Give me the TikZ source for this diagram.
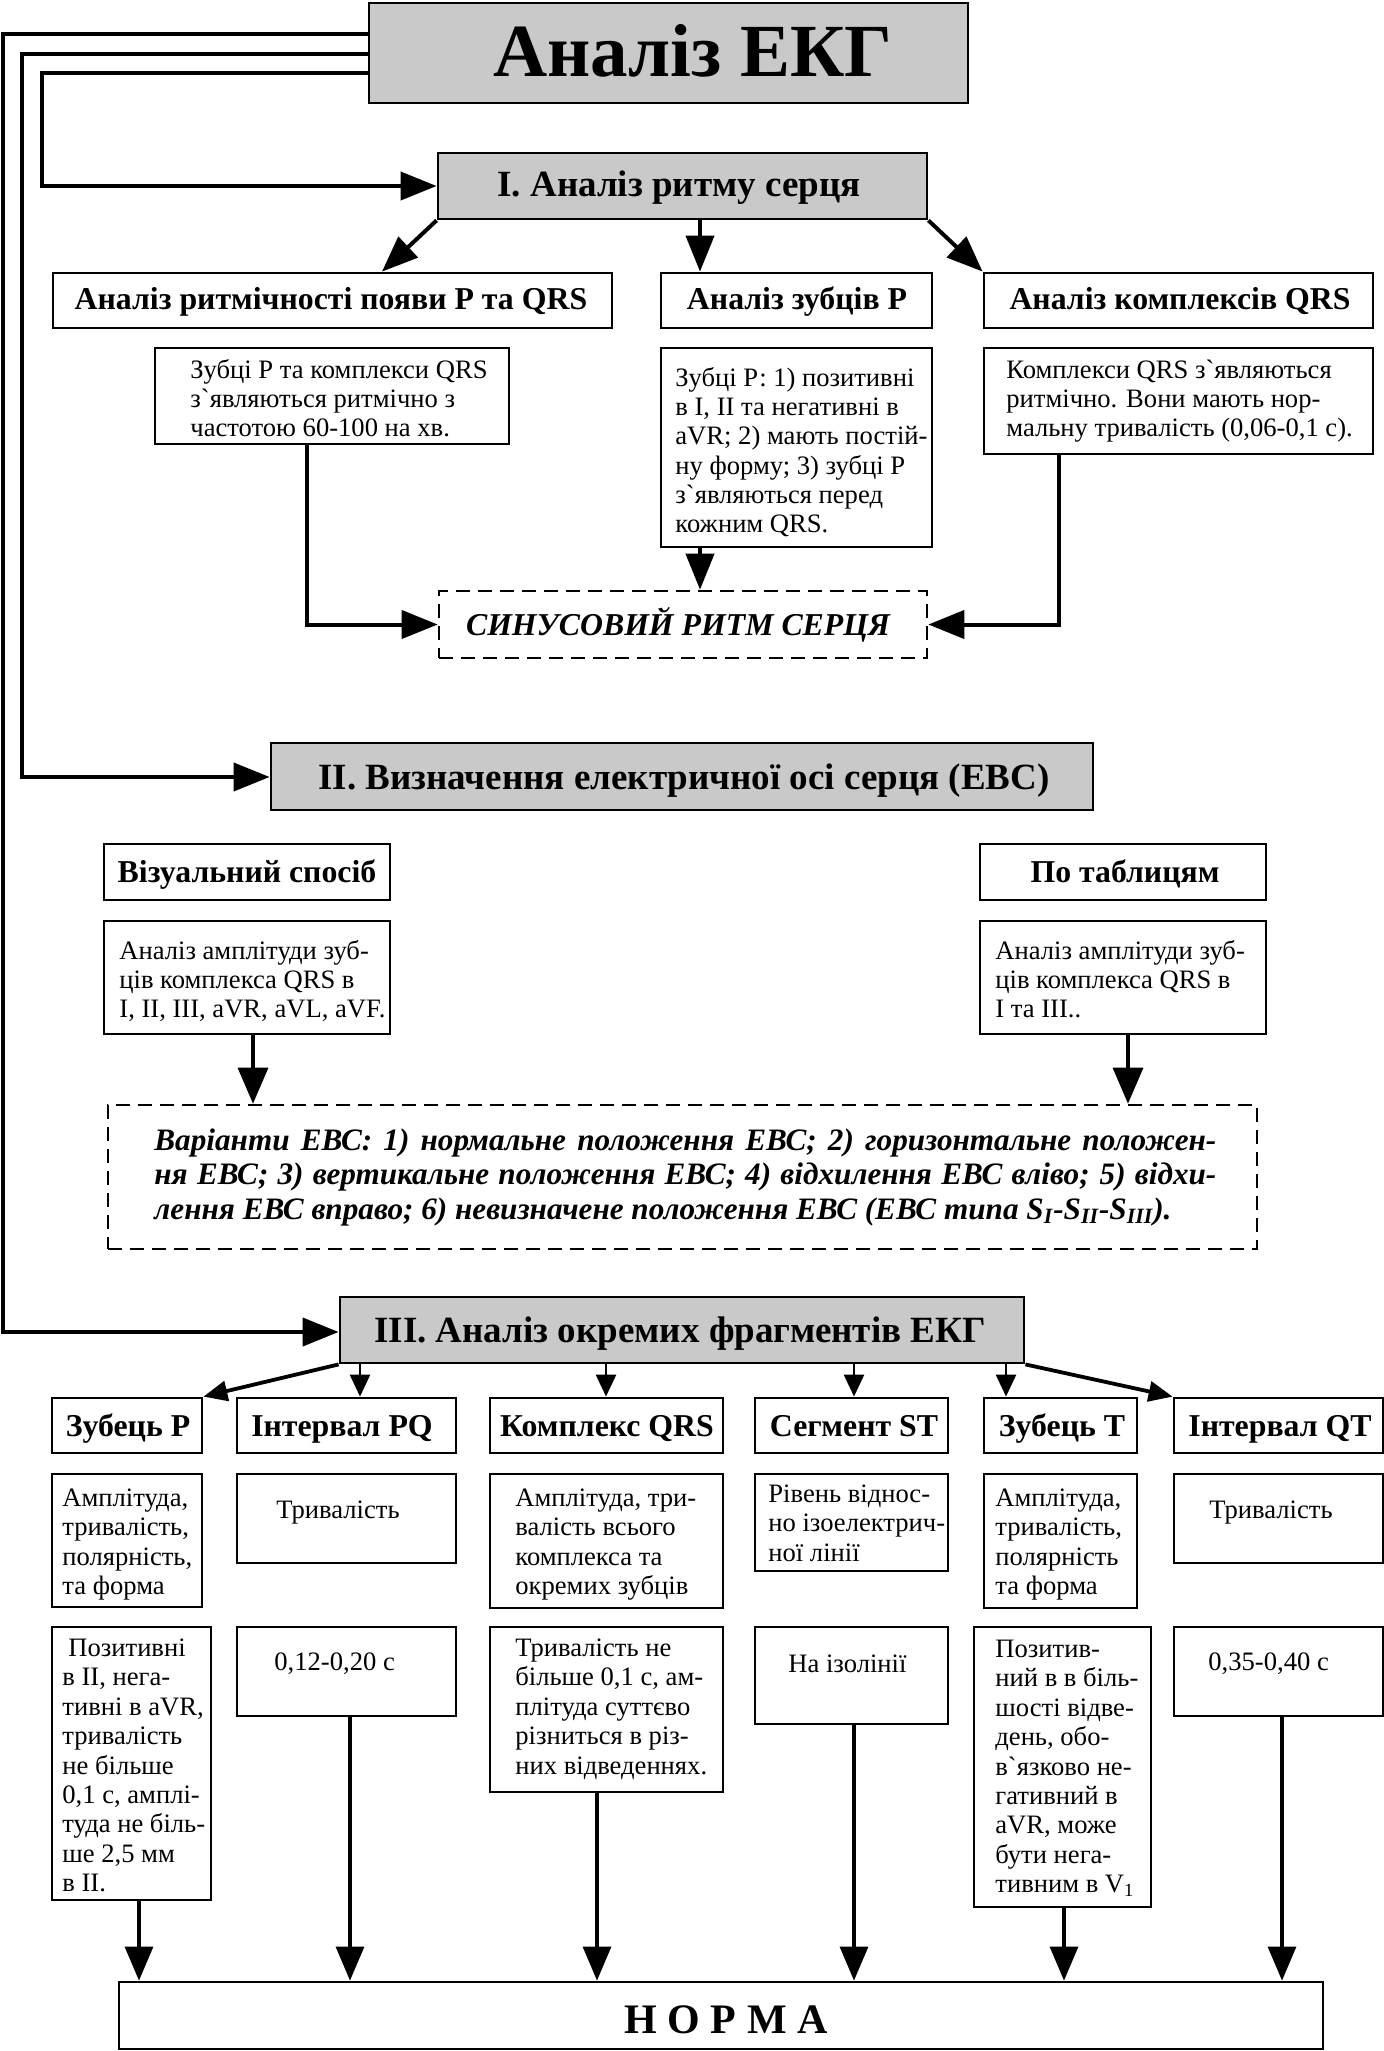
\documentclass[tikz,border=0pt]{standalone}
\usepackage{fontspec}
\setmainfont{Liberation Serif}
\newfontfamily\gravefont{Liberation Serif}
\usetikzlibrary{arrows.meta,fit}
\definecolor{boxgray}{gray}{0.79}
\newcommand{\fs}[2]{\fontsize{#1}{#2}\selectfont}
\newcommand{\rl}[1]{\rule{0pt}{#1}}
\newcommand{\gq}{{\gravefont`}}
\begin{document}
\begin{tikzpicture}[x=0.5pt,y=-0.5pt,
  box/.style={draw, line width=1.4pt, inner sep=0pt},
  gbox/.style={box, fill=boxgray},
  dbox/.style={draw, line width=1.3pt, inner sep=0pt, dash pattern=on 7pt off 4pt},
  bigarr/.style={line width=2pt, -{Triangle[length=18pt,width=14pt]}},
  arrII/.style={line width=1.6pt, -{Triangle[length=18pt,width=15pt]}},
  midarr/.style={line width=1.6pt, -{Triangle[length=17pt,width=14pt]}},
  smarr/.style={line width=1.3pt, -{Triangle[length=11pt,width=10pt]}},
  diagarr/.style={line width=1.9pt, -{Triangle[length=12pt,width=10pt]}},
  ttl/.style={font=\fs{37.5}{42}\bfseries, inner sep=0pt, anchor=base},
  sec/.style={font=\fs{18.5}{21}\bfseries, inner sep=0pt, anchor=base},
  hd/.style={font=\fs{15.9}{18}\bfseries, inner sep=0pt, anchor=base},
  lhd/.style={font=\fs{15.9}{18}\bfseries, inner sep=0pt, anchor=base},
  body/.style={font=\fs{13.3}{14.6}, inner sep=0pt, anchor=north west, align=left},
  sbody/.style={font=\fs{13.3}{14.6}, inner sep=0pt, anchor=base west},
  lbody/.style={font=\fs{13.3}{14.7}, inner sep=0pt, anchor=north west, align=left},
  slbody/.style={font=\fs{13.3}{14.7}, inner sep=0pt, anchor=base west},
  sinus/.style={font=\fs{15.9}{19}\bfseries\itshape, inner sep=0pt, anchor=base},
  vartext/.style={font=\fs{15.6}{17.2}\bfseries\itshape, inner sep=0pt, anchor=north west, align=justify, text width=531pt},
  normt/.style={font=\fs{21}{24}\bfseries, inner sep=0pt, anchor=base}
]
\useasboundingbox (0,0) rectangle (1384,2051);

% ---------- title ----------
\node[gbox, fit={(369,3) (968,103)}] (title) {};
\node[ttl] (titleT) at (693,76) {Аналіз ЕКГ};

% ---------- section I ----------
\node[gbox, fit={(438,153) (927,219)}] (secI) {};
\node[sec] (secIT) at (679,196) {I. Аналіз ритму серця};

\node[box, fit={(53,273) (612,328)}] (h1) {};
\node[hd] (h1T) at (331,309) {Аналіз ритмічності появи Р та QRS};
\node[box, fit={(661,273) (932,328)}] (h2) {};
\node[hd] (h2T) at (797,309) {Аналіз зубців Р};
\node[box, fit={(984,273) (1373,328)}] (h3) {};
\node[hd] (h3T) at (1180,309) {Аналіз комплексів QRS};

\node[box, fit={(155,348) (509,444)}] (b1) {};
\node[body] (b1T) at (190,355) {\rl{11.5pt}Зубці Р та комплекси QRS\\з\gq являються ритмічно з\\частотою 60-100 на хв.};
\node[box, fit={(661,348) (932,547)}] (b2) {};
\node[body] (b2T) at (675,363) {\rl{11.5pt}Зубці Р: 1) позитивні\\в I, II та негативні в\\aVR; 2) мають постій-\\ну форму; 3) зубці Р\\з\gq являються перед\\кожним QRS.};
\node[box, fit={(984,348) (1373,454)}] (b3) {};
\node[body] (b3T) at (1006,355) {\rl{11.5pt}Комплекси QRS з\gq являються\\ритмічно. Вони мають нор-\\мальну тривалість (0,06-0,1 с).};

\node[dbox, fit={(439,591) (927,658)}] (sin) {};
\node[sinus] (sinT) at (678,635) {СИНУСОВИЙ РИТМ СЕРЦЯ};

% ---------- section II ----------
\node[gbox, fit={(271,743) (1093,810)}] (secII) {};
\node[sec] (secIIT) at (684,789) {II. Визначення електричної осі серця (ЕВС)};

\node[box, fit={(104,844) (390,900)}] (vis) {};
\node[hd] (visT) at (247,882) {Візуальний спосіб};
\node[box, fit={(980,844) (1266,900)}] (tab) {};
\node[hd] (tabT) at (1125,882) {По таблицям};

\node[box, fit={(104,921) (390,1034)}] (vis2) {};
\node[body] (vis2T) at (119,936) {\rl{11.5pt}Аналіз амплітуди зуб-\\ців комплекса QRS в\\I, II, III, aVR, aVL, aVF.};
\node[box, fit={(980,921) (1266,1034)}] (tab2) {};
\node[body] (tab2T) at (995,936) {\rl{11.5pt}Аналіз амплітуди зуб-\\ців комплекса QRS в\\I та III..};

\node[dbox, fit={(108,1105) (1257,1249)}] (var) {};
\node[vartext] (varT) at (154,1122) {\rl{14pt}Варіанти ЕВС: 1) нормальне положення ЕВС; 2) горизонтальне положен-\linebreak ня ЕВС; 3) вертикальне положення ЕВС; 4) відхилення ЕВС вліво; 5) відхи-\linebreak лення ЕВС вправо; 6) невизначене положення ЕВС (ЕВС типа S\textsubscript{I}-S\textsubscript{II}-S\textsubscript{III}).};

% ---------- section III ----------
\node[gbox, fit={(340,1297) (1024,1363)}] (secIII) {};
\node[sec] (secIIIT) at (680,1342) {III. Аналіз окремих фрагментів ЕКГ};

\node[box, fit={(52,1398) (202,1453)}] (hP) {};
\node[lhd] (hPT) at (128,1436) {Зубець Р};
\node[box, fit={(237,1398) (456,1453)}] (hPQ) {};
\node[lhd] (hPQT) at (342,1436) {Інтервал PQ};
\node[box, fit={(490,1398) (723,1453)}] (hQRS) {};
\node[lhd] (hQRST) at (607,1436) {Комплекс QRS};
\node[box, fit={(755,1398) (948,1453)}] (hST) {};
\node[lhd] (hSTT) at (854,1436) {Сегмент ST};
\node[box, fit={(984,1398) (1137,1453)}] (hT) {};
\node[lhd] (hTT) at (1062,1436) {Зубець Т};
\node[box, fit={(1174,1398) (1383,1453)}] (hQT) {};
\node[lhd] (hQTT) at (1280,1436) {Інтервал QT};

% row 2
\node[box, fit={(52,1474) (202,1607)}] (rP2) {};
\node[lbody] (rP2T) at (62,1483) {\rl{11.5pt}Амплітуда,\\тривалість,\\полярність,\\та форма};
\node[box, fit={(237,1474) (456,1563)}] (rPQ2) {};
\node[slbody] (rPQ2T) at (276,1518) {Тривалість};
\node[box, fit={(490,1474) (723,1608)}] (rQRS2) {};
\node[lbody] (rQRS2T) at (515,1483) {\rl{11.5pt}Амплітуда, три-\\валість всього\\комплекса та\\окремих зубців};
\node[box, fit={(755,1474) (948,1571)}] (rST2) {};
\node[lbody] (rST2T) at (768,1479) {\rl{11.5pt}Рівень віднос-\\но ізоелектрич-\\ної лінії};
\node[box, fit={(984,1474) (1137,1608)}] (rT2) {};
\node[lbody] (rT2T) at (995,1483) {\rl{11.5pt}Амплітуда,\\тривалість,\\полярність\\та форма};
\node[box, fit={(1174,1474) (1383,1563)}] (rQT2) {};
\node[slbody] (rQT2T) at (1209,1518) {Тривалість};

% row 3
\node[box, fit={(52,1627) (211,1900)}] (rP3) {};
\node[lbody] (rP3T) at (62,1633) {\rl{11.5pt}\hspace{3pt}Позитивні\\в II, нега-\\тивні в aVR,\\тривалість\\не більше\\0,1 с, амплі-\\туда не біль-\\ше 2,5 мм\\в II.};
\node[box, fit={(237,1627) (456,1716)}] (rPQ3) {};
\node[slbody] (rPQ3T) at (274,1670) {0,12-0,20 с};
\node[box, fit={(490,1627) (723,1792)}] (rQRS3) {};
\node[lbody] (rQRS3T) at (515,1633) {\rl{11.5pt}Тривалість не\\більше 0,1 с, ам-\\плітуда суттєво\\різниться в різ-\\них відведеннях.};
\node[box, fit={(755,1627) (948,1724)}] (rST3) {};
\node[slbody] (rST3T) at (788,1672) {На ізолінії};
\node[box, fit={(974,1627) (1151,1907)}] (rT3) {};
\node[lbody] (rT3T) at (995,1634) {\rl{11.5pt}Позитив-\\ний в в біль-\\шості відве-\\день, обо-\\в\gq язково не-\\гативний в\\aVR, може\\бути нега-\\тивним в V\textsubscript{1}};
\node[box, fit={(1174,1627) (1383,1716)}] (rQT3) {};
\node[slbody] (rQT3T) at (1208,1670) {0,35-0,40 с};

\node[box, fit={(119,1982) (1323,2049)}] (norm) {};
\node[normt] (normT) at (726,2033) {Н О Р М А};

% ---------- coordinates for connectors ----------
\coordinate (o1) at (3,34);   \coordinate (o1b) at (3,1332);
\coordinate (o2) at (22,54);  \coordinate (o2b) at (22,777);
\coordinate (o3) at (42,73);  \coordinate (o3b) at (42,186);
\coordinate (x382) at (382,0);
\coordinate (x700) at (700,0);
\coordinate (x307) at (307,0);
\coordinate (x1059) at (1059,0);
\coordinate (x253) at (253,0);
\coordinate (x1128) at (1128,0);
\coordinate (x360) at (360,0);
\coordinate (x606) at (606,0);
\coordinate (x854) at (854,0);
\coordinate (x1006) at (1006,0);
\coordinate (x139) at (139,0);
\coordinate (x350) at (350,0);
\coordinate (x597) at (597,0);
\coordinate (x1064) at (1064,0);
\coordinate (x1282) at (1282,0);

% ---------- connectors ----------
\draw[bigarr] (title.west |- o1) -- (o1) -- (o1b) -- (secIII.west |- o1b);
\draw[bigarr] (title.west |- o2) -- (o2) -- (o2b) -- (secII.west |- o2b);
\draw[bigarr] (title.west |- o3) -- (o3) -- (o3b) -- (secI.west |- o3b);

\draw[bigarr] (secI.south west) -- (h1.north -| x382);
\draw[bigarr] (secI.south -| x700) -- (h2.north -| x700);
\draw[bigarr] (secI.south east) -- (h3.north west);

\draw[bigarr] (b1.south -| x307) |- (sin.west);
\draw[bigarr] (b2.south -| x700) -- (sin.north -| x700);
\draw[bigarr] (b3.south -| x1059) |- (sin.east);

\draw[arrII] (vis2.south -| x253) -- (var.north -| x253);
\draw[arrII] (tab2.south -| x1128) -- (var.north -| x1128);

\draw[diagarr] (secIII.south west) -- (hP.north east);
\draw[smarr] (secIII.south -| x360) -- (hPQ.north -| x360);
\draw[smarr] (secIII.south -| x606) -- (hQRS.north -| x606);
\draw[smarr] (secIII.south -| x854) -- (hST.north -| x854);
\draw[smarr] (secIII.south -| x1006) -- (hT.north -| x1006);
\draw[diagarr] (secIII.south east) -- (hQT.north west);

\draw[midarr] (rP3.south -| x139) -- (norm.north -| x139);
\draw[midarr] (rPQ3.south -| x350) -- (norm.north -| x350);
\draw[midarr] (rQRS3.south -| x597) -- (norm.north -| x597);
\draw[midarr] (rST3.south -| x854) -- (norm.north -| x854);
\draw[midarr] (rT3.south -| x1064) -- (norm.north -| x1064);
\draw[midarr] (rQT3.south -| x1282) -- (norm.north -| x1282);
\end{tikzpicture}
\end{document}
